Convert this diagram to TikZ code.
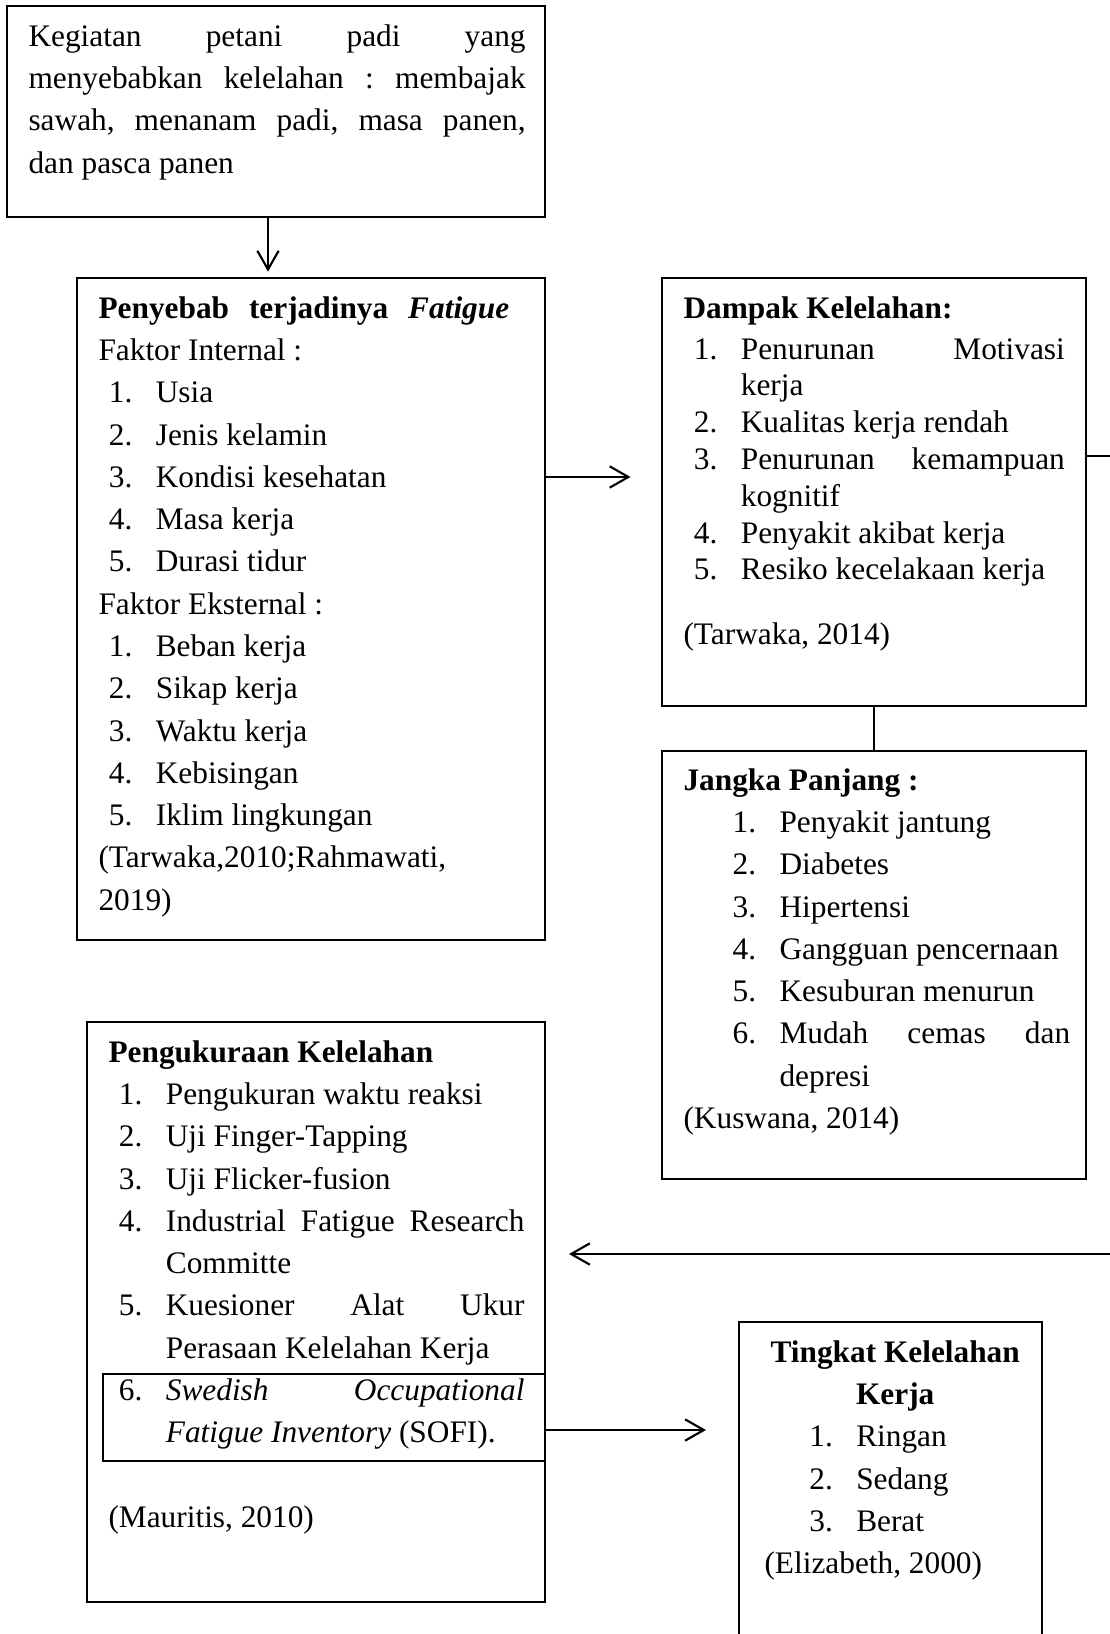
\documentclass[tikz,border=0pt]{standalone}
\usepackage{fontspec}
\setmainfont{Liberation Serif}
\usetikzlibrary{arrows.meta, fit, positioning}

% list items with hanging indent
\newlength{\numin}\newlength{\txtin}
\setlength{\numin}{3.9pt}\setlength{\txtin}{21.5pt}
\newcommand{\itm}[2]{\par\hangindent=\txtin\hangafter=1\noindent\makebox[\txtin][l]{\hspace{\numin}#1.}#2}

\begin{document}
\frenchspacing
\begin{tikzpicture}[
    x=0.375pt, y=-0.375pt,
    panel/.style={draw, line width=0.8pt, inner sep=0pt},
    txt/.style={anchor=north west, inner sep=0pt, align=justify, font=\fontsize{11.75}{15.86}\selectfont},
    arr/.style={-{Straight Barb[length=7pt,width=8pt]}, line width=0.8pt}
]
    \useasboundingbox (0,0) rectangle (1110,1634);

    % boxes
    \node[panel, fit={(7,6) (545,217)}] (kegiatan) {};
    \node[panel, fit={(77,278) (545,940)}] (penyebab) {};
    \node[panel, fit={(662,278) (1086,706)}] (dampak) {};
    \node[panel, fit={(662,751) (1086,1179)}] (jangka) {};
    \node[panel, fit={(87,1022) (545,1602)}] (pengukuran) {};
    \node[panel, fit={(103,1374) (545,1461)}] (sofi) {};
    \node[panel, fit={(739,1322) (1042,1650)}] (tingkat) {};

    % texts
    \node[txt, text width=186.4pt] (kegiatanTxt) at (28,16) {\strut Kegiatan petani padi yang\linebreak
        menyebabkan kelelahan : membajak\linebreak sawah, menanam padi, masa panen,\linebreak dan pasca panen};

    \node[txt, text width=154pt] (penyebabTxt) at (98,288) {\strut\textbf{Penyebab terjadinya \textit{Fatigue}}\linebreak
        Faktor Internal :
        \itm{1}{Usia}
        \itm{2}{Jenis kelamin}
        \itm{3}{Kondisi kesehatan}
        \itm{4}{Masa kerja}
        \itm{5}{Durasi tidur}
        \par\noindent Faktor Eksternal :
        \itm{1}{Beban kerja}
        \itm{2}{Sikap kerja}
        \itm{3}{Waktu kerja}
        \itm{4}{Kebisingan}
        \itm{5}{Iklim lingkungan}
        \par\noindent (Tarwaka,2010;Rahmawati,\newline 2019)};

    \node[txt, text width=143pt, font=\fontsize{11.75}{13.8}\selectfont] (dampakTxt) at (683,292) {\strut\textbf{Dampak Kelelahan:}\par\vspace{1.5pt}
        \itm{1}{Penurunan Motivasi\linebreak kerja}
        \itm{2}{Kualitas kerja rendah}
        \itm{3}{Penurunan kemampuan\linebreak kognitif}
        \itm{4}{Penyakit akibat kerja}
        \itm{5}{Resiko kecelakaan kerja}
        \par\vspace{10.4pt}\noindent (Tarwaka, 2014)};

    \node[txt, text width=145pt] (jangkaTxt) at (683,760) {\setlength{\numin}{18.4pt}\setlength{\txtin}{36pt}%
        \strut\textbf{Jangka Panjang :}
        \itm{1}{Penyakit jantung}
        \itm{2}{Diabetes}
        \itm{3}{Hipertensi}
        \itm{4}{Gangguan pencernaan}
        \itm{5}{Kesuburan menurun}
        \itm{6}{Mudah cemas dan\linebreak depresi}
        \par\noindent (Kuswana, 2014)};

    \node[txt, text width=156pt] (pengukuranTxt) at (108,1032) {\strut\textbf{Pengukuraan Kelelahan}
        \itm{1}{Pengukuran waktu reaksi}
        \itm{2}{Uji Finger-Tapping}
        \itm{3}{Uji Flicker-fusion}
        \itm{4}{Industrial Fatigue Research\linebreak Committe}
        \itm{5}{Kuesioner Alat Ukur\linebreak Perasaan Kelelahan Kerja}
        \itm{6}{\textit{Swedish Occupational}\linebreak \textit{Fatigue Inventory} (SOFI).}
        \par\vspace{15.86pt}\noindent (Mauritis, 2010)};

    \node[txt, text width=98pt] (tingkatTxt) at (764,1332) {\setlength{\numin}{16.8pt}\setlength{\txtin}{34.4pt}%
        {\centering\strut\textbf{Tingkat Kelelahan}\par\textbf{Kerja}\par}
        \itm{1}{Ringan}
        \itm{2}{Sedang}
        \itm{3}{Berat}
        \par\noindent (Elizabeth, 2000)};

    % connectors
    \coordinate (rimTop) at (1110,456);
    \coordinate (rimLow) at (1110,1254);
    \draw[arr, shorten >=2pt] (kegiatan.south -| 268,0) -- (penyebab.north -| 268,0);
    \draw[arr, shorten >=11.4pt] (penyebab.east |- 0,477) -- (dampak.west |- 0,477);
    \draw[line width=0.8pt] (dampak.south) -- (jangka.north);
    \draw[line width=0.8pt] (dampak.east |- rimTop) -- (rimTop);
    \draw[arr, shorten >=8.6pt] (rimLow) -- (pengukuran.east |- rimLow);
    \draw[arr, shorten >=12pt] (sofi.east |- 0,1430) -- (tingkat.west |- 0,1430);
\end{tikzpicture}
\end{document}
